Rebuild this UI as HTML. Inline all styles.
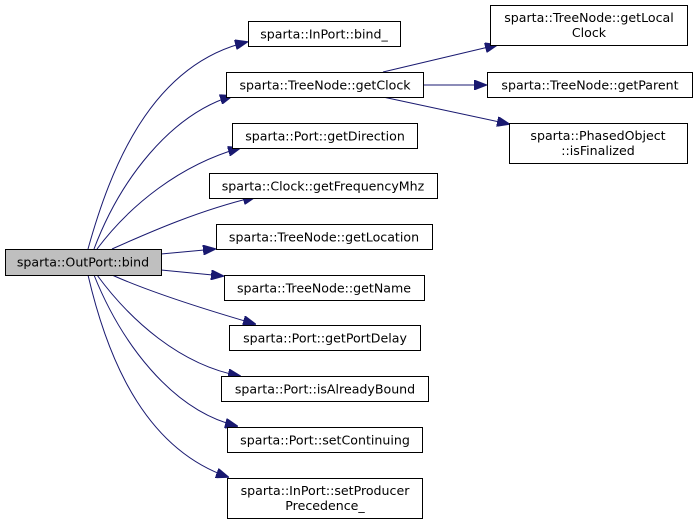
<!DOCTYPE html>
<html><head><meta charset="utf-8"><style>
html,body{margin:0;padding:0;background:#fff;width:696px;height:524px;overflow:hidden}
text{font-family:"DejaVu Sans","Liberation Sans",sans-serif;font-size:12.6px;fill:#000}
</style></head><body>
<svg width="696" height="524" viewBox="0 0 696 524" xmlns="http://www.w3.org/2000/svg">
<defs><marker id="a" markerWidth="13" markerHeight="10" refX="12" refY="5" orient="auto" markerUnits="userSpaceOnUse"><path d="M0,0 L13,5 L0,10 Z" fill="#191970" stroke="#191970"/></marker></defs>
<g fill="none" stroke="#191970" stroke-width="1" marker-end="url(#a)">
<path d="M88,249 C110,170 150,65 247,42"/>
<path d="M94,249 C120,180 170,115 232,96"/>
<path d="M97,249 C130,205 180,165 240,148"/>
<path d="M112,249 C150,232 200,210 255,197"/>
<path d="M161,254 L215,249"/>
<path d="M161,270 L223,276"/>
<path d="M112,275 C150,292 200,308 255,324"/>
<path d="M97,275 C130,320 180,365 240,376"/>
<path d="M94,275 C120,340 170,410 237,426"/>
<path d="M88,275 C110,370 150,450 228,477"/>
<path d="M383,72 L497,45"/>
<path d="M423,85 L486,85"/>
<path d="M383,97 L509,124"/>
</g>
<g fill="#fff" stroke="#000" stroke-width="1">
<rect x="5.5" y="249.5" width="156" height="26" fill="#bfbfbf"/>
<rect x="248.5" y="21.5" width="152" height="25"/>
<rect x="226.5" y="72.5" width="197" height="25"/>
<rect x="232.5" y="123.5" width="185" height="25"/>
<rect x="209.5" y="173.5" width="228" height="25"/>
<rect x="216.5" y="224.5" width="216" height="25"/>
<rect x="224.5" y="275.5" width="200" height="25"/>
<rect x="229.5" y="325.5" width="191" height="25"/>
<rect x="221.5" y="376.5" width="207" height="25"/>
<rect x="227.5" y="427.5" width="195" height="25"/>
<rect x="227.5" y="478.5" width="195" height="40"/>
<rect x="490.5" y="5.5" width="197" height="40"/>
<rect x="487.5" y="72.5" width="205" height="25"/>
<rect x="509.5" y="123.5" width="178" height="40"/>
</g>
<g text-anchor="middle">
<text x="83" y="266.5">sparta::OutPort::bind</text>
<text x="324" y="38.5">sparta::InPort::bind_</text>
<text x="325" y="89.5">sparta::TreeNode::getClock</text>
<text x="325" y="140.5">sparta::Port::getDirection</text>
<text x="323" y="190.5">sparta::Clock::getFrequencyMhz</text>
<text x="324" y="241.5">sparta::TreeNode::getLocation</text>
<text x="324" y="292.5">sparta::TreeNode::getName</text>
<text x="325" y="342.5">sparta::Port::getPortDelay</text>
<text x="325" y="393.5">sparta::Port::isAlreadyBound</text>
<text x="325" y="444.5">sparta::Port::setContinuing</text>
<text x="325" y="495">sparta::InPort::setProducer</text>
<text x="325" y="510">Precedence_</text>
<text x="589" y="22">sparta::TreeNode::getLocal</text>
<text x="589" y="37">Clock</text>
<text x="590" y="89.5">sparta::TreeNode::getParent</text>
<text x="598" y="140">sparta::PhasedObject</text>
<text x="598" y="155">::isFinalized</text>
</g>
</svg>
</body></html>
